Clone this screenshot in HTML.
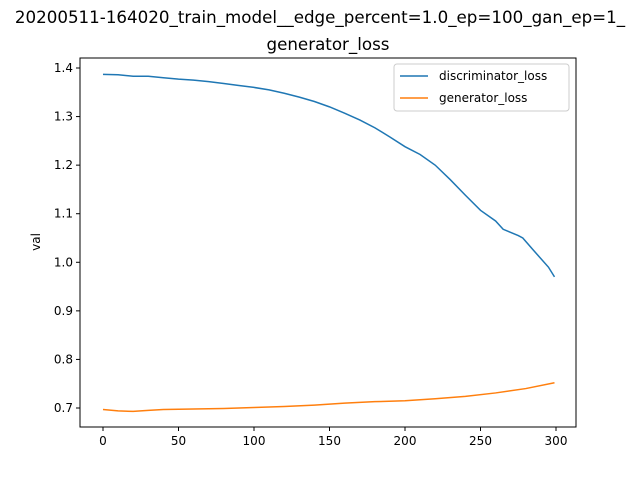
<!DOCTYPE html>
<html><head><meta charset="utf-8"><style>
body{margin:0;background:#fff;font-family:"Liberation Sans","DejaVu Sans",sans-serif}
svg text{font-family:"DejaVu Sans","Liberation Sans",sans-serif}
</style></head><body>
<svg id="chart" width="640" height="480" xmlns="http://www.w3.org/2000/svg">
<rect width="640" height="480" fill="#fff"/>
<text x="320" y="23" text-anchor="middle" font-size="16.7">20200511-164020_train_model__edge_percent=1.0_ep=100_gan_ep=1_</text>
<text x="328" y="50" text-anchor="middle" font-size="16.7">generator_loss</text>
<g id="ticks"></g>
<g id="lines"></g>
<rect x="80" y="58" width="496" height="369" fill="none" stroke="#000" stroke-width="1"/>
<text transform="translate(40,242) rotate(-90)" text-anchor="middle" font-size="12">val</text>
<g>
<rect x="394" y="64" width="175" height="47" rx="3" fill="#fff" stroke="#ccc"/>
<line x1="400" y1="76" x2="428" y2="76" stroke="#1f77b4" stroke-width="1.5"/>
<text x="439" y="80" font-size="12">discriminator_loss</text>
<line x1="400" y1="98" x2="428" y2="98" stroke="#ff7f0e" stroke-width="1.5"/>
<text x="439" y="102" font-size="12">generator_loss</text>
</g>
</svg>
<script>
const xTicks=[0,50,100,150,200,250,300];
const yTicks=[0.7,0.8,0.9,1.0,1.1,1.2,1.3,1.4];
const discX=[0,10,20,30,40,50,60,70,80,90,100,110,120,130,140,150,160,170,180,190,200,210,220,230,240,250,260,265,275,278,285,295,299];
const discY=[1.387,1.386,1.383,1.383,1.380,1.377,1.375,1.372,1.368,1.364,1.360,1.355,1.348,1.340,1.331,1.320,1.307,1.293,1.277,1.258,1.238,1.222,1.200,1.170,1.138,1.107,1.085,1.068,1.055,1.050,1.025,0.990,0.970];
const genX=[0,10,20,30,40,60,80,100,120,140,160,180,200,220,240,260,280,299];
const genY=[0.697,0.694,0.693,0.695,0.697,0.698,0.699,0.701,0.703,0.706,0.710,0.713,0.715,0.719,0.724,0.731,0.740,0.752];
const NS="http://www.w3.org/2000/svg";
const sx=v=>103+v*(556-103)/300;
const sy=v=>408-(v-0.7)*(408-68)/0.7;
const tg=document.getElementById('ticks');
xTicks.forEach(t=>{
 const l=document.createElementNS(NS,'line');
 l.setAttribute('x1',sx(t));l.setAttribute('x2',sx(t));l.setAttribute('y1',427);l.setAttribute('y2',431);l.setAttribute('stroke','#000');
 
 
 tg.appendChild(l);
 const tx=document.createElementNS(NS,'text');
 tx.setAttribute('x',sx(t));tx.setAttribute('y',445);tx.setAttribute('text-anchor','middle');tx.setAttribute('font-size','12');tx.textContent=t;
 
 
 tg.appendChild(tx);
});
yTicks.forEach(t=>{
 const l=document.createElementNS(NS,'line');
 l.setAttribute('x1',76);l.setAttribute('x2',80);l.setAttribute('y1',sy(t));l.setAttribute('y2',sy(t));l.setAttribute('stroke','#000');
 
 
 tg.appendChild(l);
 const tx=document.createElementNS(NS,'text');
 tx.setAttribute('x',73);tx.setAttribute('y',sy(t)+4);tx.setAttribute('text-anchor','end');tx.setAttribute('font-size','12');tx.textContent=t.toFixed(1);
 
 
 tg.appendChild(tx);
});
const lg=document.getElementById('lines');
function line(xs,ys,c,name){
 const p=document.createElementNS(NS,'polyline');
 p.setAttribute('points',xs.map((x,i)=>sx(x)+','+sy(ys[i])).join(' '));
 p.setAttribute('fill','none');p.setAttribute('stroke',c);p.setAttribute('stroke-width','1.5');
 
 
 lg.appendChild(p);
}
line(discX,discY,'#1f77b4','discriminator-loss-line');
line(genX,genY,'#ff7f0e','generator-loss-line');
</script>
</body></html>
